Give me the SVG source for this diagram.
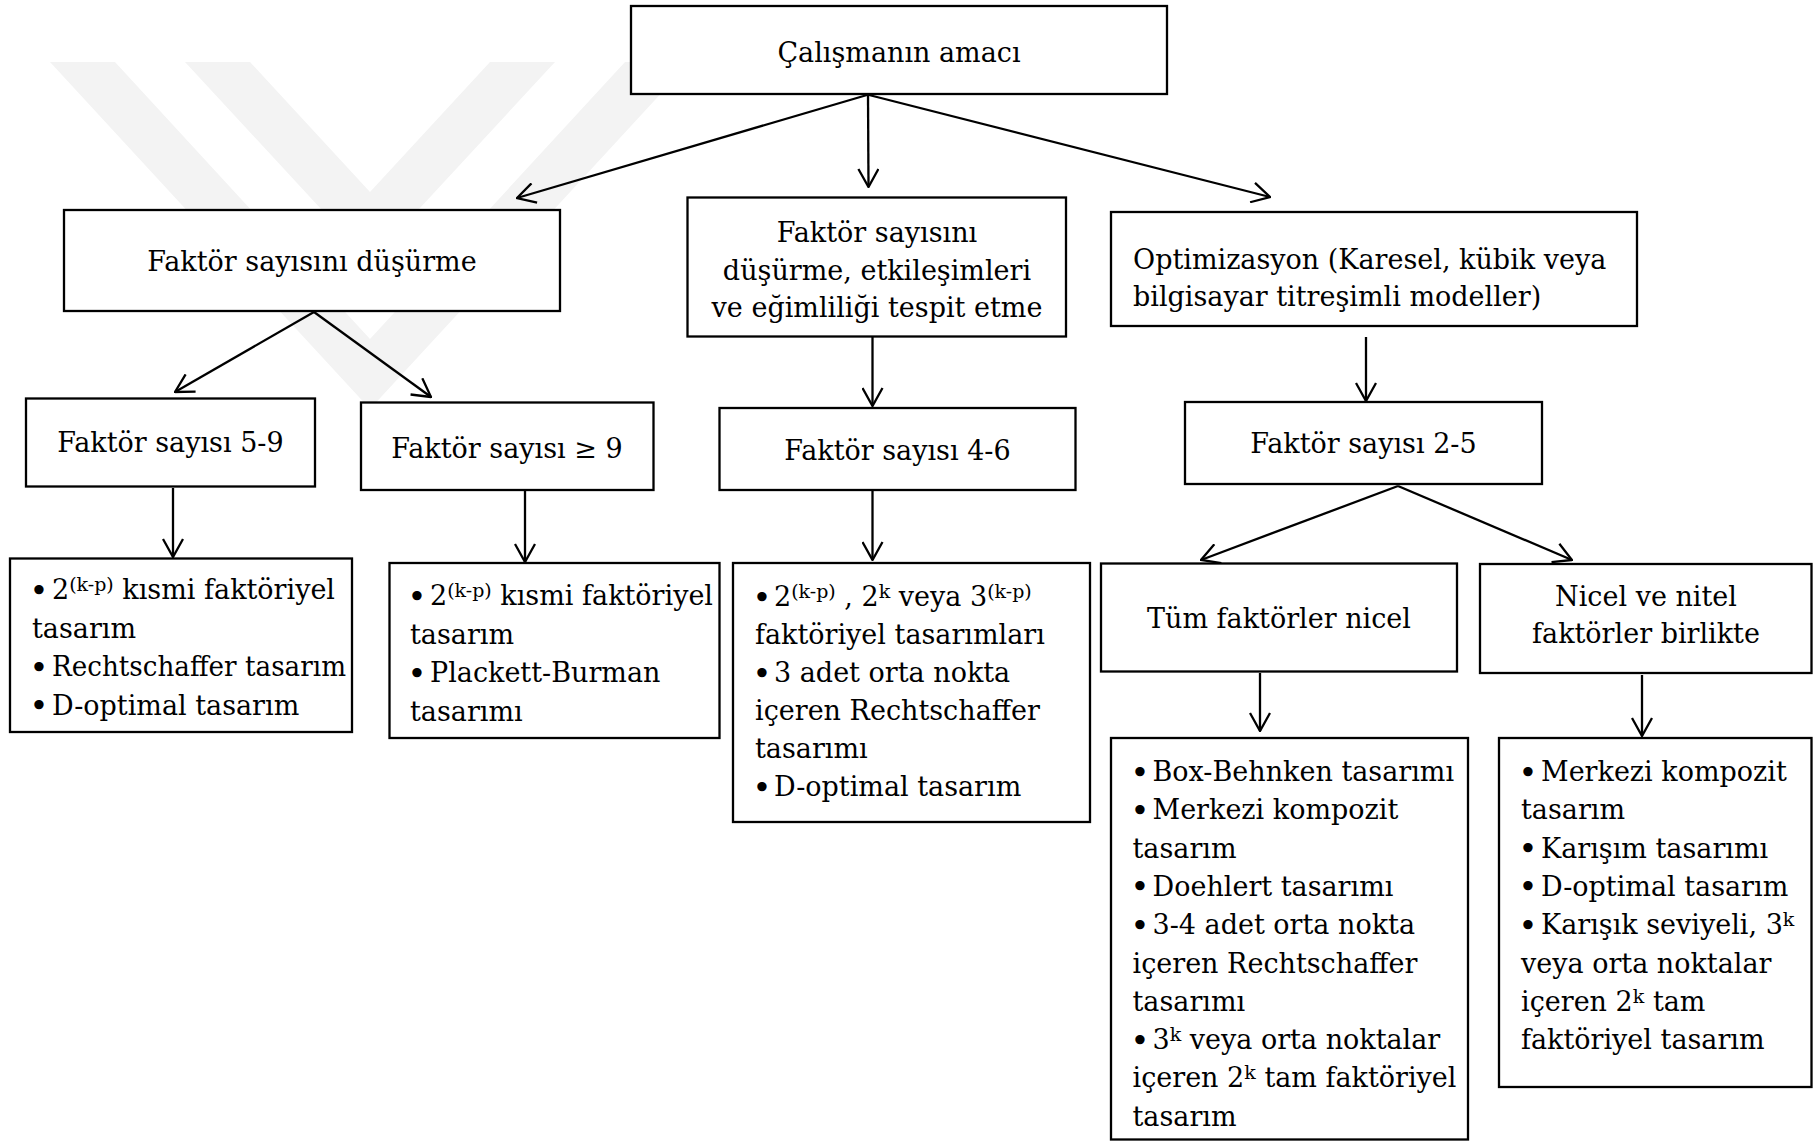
<svg xmlns="http://www.w3.org/2000/svg" width="1814" height="1142" viewBox="0 0 1814 1142">
<style>
.box{fill:#fff;stroke:#000;stroke-width:2.3}
.t{font-family:"DejaVu Serif","Liberation Serif",serif;font-size:27px;fill:#000}
.c{text-anchor:middle}
.b{text-anchor:middle;font-size:32px}
.sup{font-size:19px}
.ln{fill:none;stroke:#000;stroke-width:2.3;marker-end:url(#ah)}
.wm{fill:#f3f3f3}
</style>
<defs>
<marker id="ah" viewBox="0 0 20 22" refX="19" refY="11" markerWidth="20" markerHeight="22" markerUnits="userSpaceOnUse" orient="auto">
<path d="M1,1 L19,11 L1,21" fill="none" stroke="#000" stroke-width="2.3"/>
</marker>
</defs>
<rect width="1814" height="1142" fill="#fff"/>
<g id="watermark">
<polygon class="wm" points="50,62 115,62 370,339 625,62 690,62 370,409"/>
<polygon class="wm" points="185,62 250,62 370,192 490,62 555,62 370,262"/>
</g>
<g id="connectors">
<line class="ln" x1="867" y1="95" x2="517" y2="198"/>
<line class="ln" x1="868" y1="95" x2="868.5" y2="187"/>
<line class="ln" x1="869" y1="95" x2="1270" y2="197"/>
<line class="ln" x1="314" y1="312" x2="175" y2="392"/>
<line class="ln" x1="314" y1="312" x2="431" y2="397"/>
<line class="ln" x1="872.5" y1="337" x2="872.5" y2="406"/>
<line class="ln" x1="1366" y1="337" x2="1366" y2="401"/>
<line class="ln" x1="173" y1="488" x2="173" y2="557"/>
<line class="ln" x1="525" y1="491" x2="525" y2="562"/>
<line class="ln" x1="872.5" y1="491" x2="872.5" y2="560"/>
<line class="ln" x1="1398" y1="486" x2="1201" y2="560"/>
<line class="ln" x1="1398" y1="486" x2="1572" y2="560"/>
<line class="ln" x1="1260" y1="673" x2="1260" y2="731"/>
<line class="ln" x1="1642" y1="675" x2="1642" y2="736"/>
</g>
<g id="n-amac">
<rect class="box" x="631" y="6" width="536" height="88"/>
<text class="t c" x="899" y="62">Çalışmanın amacı</text>
</g>
<g id="n-dusurme">
<rect class="box" x="64" y="210" width="496" height="101"/>
<text class="t c" x="312" y="271">Faktör sayısını düşürme</text>
</g>
<g id="n-etkilesim">
<rect class="box" x="687.5" y="197.5" width="378.5" height="139"/>
<text class="t c" x="877" y="242">Faktör sayısını</text>
<text class="t c" x="877" y="279.5">düşürme, etkileşimleri</text>
<text class="t c" x="877" y="316.5">ve eğimliliği tespit etme</text>
</g>
<g id="n-optimizasyon">
<rect class="box" x="1111" y="212" width="526" height="114"/>
<text class="t" x="1133" y="269">Optimizasyon (Karesel, kübik veya</text>
<text class="t" x="1133" y="306">bilgisayar titreşimli modeller)</text>
</g>
<g id="n-f59">
<rect class="box" x="26" y="398.5" width="289" height="88"/>
<text class="t c" x="170.5" y="452">Faktör sayısı 5-9</text>
</g>
<g id="n-f9">
<rect class="box" x="361" y="402.5" width="292.5" height="87.5"/>
<text class="t c" x="507" y="457.5">Faktör sayısı ≥ 9</text>
</g>
<g id="n-f46">
<rect class="box" x="719.5" y="408" width="356" height="82"/>
<text class="t c" x="897.5" y="459.5">Faktör sayısı 4-6</text>
</g>
<g id="n-f25">
<rect class="box" x="1185" y="402" width="357" height="82"/>
<text class="t c" x="1363.5" y="453">Faktör sayısı 2-5</text>
</g>
<g id="n-d1">
<rect class="box" x="10" y="558.5" width="342" height="173.5"/>
<text class="t b" x="39" y="601.5">•</text>
<text class="t" x="52" y="599">2<tspan class="sup" dy="-8">(k-p)</tspan><tspan dy="8"> kısmi faktöriyel</tspan></text>
<text class="t" x="32" y="637.5">tasarım</text>
<text class="t b" x="39" y="678.5">•</text>
<text class="t" x="52" y="676" textLength="294" lengthAdjust="spacingAndGlyphs">Rechtschaffer tasarım</text>
<text class="t b" x="39" y="717">•</text>
<text class="t" x="52" y="714.5">D-optimal tasarım</text>
</g>
<g id="n-d2">
<rect class="box" x="389.5" y="563" width="330" height="175"/>
<text class="t b" x="417" y="607.5">•</text>
<text class="t" x="430" y="605">2<tspan class="sup" dy="-8">(k-p)</tspan><tspan dy="8"> kısmi faktöriyel</tspan></text>
<text class="t" x="410" y="643.5">tasarım</text>
<text class="t b" x="417" y="684.5">•</text>
<text class="t" x="430" y="682">Plackett-Burman</text>
<text class="t" x="410" y="720.5">tasarımı</text>
</g>
<g id="n-d3">
<rect class="box" x="733" y="563" width="357" height="259"/>
<text class="t b" x="762" y="608.5">•</text>
<text class="t" x="774" y="606">2<tspan class="sup" dy="-8">(k-p)</tspan><tspan dy="8"> , 2</tspan><tspan class="sup" dy="-8">k</tspan><tspan dy="8"> veya 3</tspan><tspan class="sup" dy="-8">(k-p)</tspan></text>
<text class="t" x="755" y="644">faktöriyel tasarımları</text>
<text class="t b" x="762" y="684.5">•</text>
<text class="t" x="774" y="682">3 adet orta nokta</text>
<text class="t" x="755" y="720">içeren Rechtschaffer</text>
<text class="t" x="755" y="758">tasarımı</text>
<text class="t b" x="762" y="798.5">•</text>
<text class="t" x="774" y="796">D-optimal tasarım</text>
</g>
<g id="n-nicel">
<rect class="box" x="1101" y="563.5" width="356" height="108"/>
<text class="t c" x="1279" y="628">Tüm faktörler nicel</text>
</g>
<g id="n-nitel">
<rect class="box" x="1480" y="564" width="331.5" height="109"/>
<text class="t c" x="1646" y="606">Nicel ve nitel</text>
<text class="t c" x="1646" y="643">faktörler birlikte</text>
</g>
<g id="n-f1">
<rect class="box" x="1111" y="738" width="357" height="401.5"/>
<text class="t b" x="1140" y="783.5">•</text>
<text class="t" x="1152.5" y="781">Box-Behnken tasarımı</text>
<text class="t b" x="1140" y="821.8">•</text>
<text class="t" x="1152.5" y="819.3">Merkezi kompozit</text>
<text class="t" x="1132.5" y="857.6">tasarım</text>
<text class="t b" x="1140" y="898.4">•</text>
<text class="t" x="1152.5" y="895.9">Doehlert tasarımı</text>
<text class="t b" x="1140" y="936.7">•</text>
<text class="t" x="1152.5" y="934.2">3-4 adet orta nokta</text>
<text class="t" x="1132.5" y="972.5">içeren Rechtschaffer</text>
<text class="t" x="1132.5" y="1010.8">tasarımı</text>
<text class="t b" x="1140" y="1051.6">•</text>
<text class="t" x="1152.5" y="1049.1">3<tspan class="sup" dy="-8">k</tspan><tspan dy="8"> veya orta noktalar</tspan></text>
<text class="t" x="1132.5" y="1087.4">içeren 2<tspan class="sup" dy="-8">k</tspan><tspan dy="8"> tam faktöriyel</tspan></text>
<text class="t" x="1132.5" y="1125.7">tasarım</text>
</g>
<g id="n-f2">
<rect class="box" x="1499" y="738" width="312.5" height="349"/>
<text class="t b" x="1528" y="783.5">•</text>
<text class="t" x="1541" y="781">Merkezi kompozit</text>
<text class="t" x="1521" y="819.3">tasarım</text>
<text class="t b" x="1528" y="860.1">•</text>
<text class="t" x="1541" y="857.6">Karışım tasarımı</text>
<text class="t b" x="1528" y="898.4">•</text>
<text class="t" x="1541" y="895.9">D-optimal tasarım</text>
<text class="t b" x="1528" y="936.7">•</text>
<text class="t" x="1541" y="934.2">Karışık seviyeli, 3<tspan class="sup" dy="-8">k</tspan></text>
<text class="t" x="1521" y="972.5">veya orta noktalar</text>
<text class="t" x="1521" y="1010.8">içeren 2<tspan class="sup" dy="-8">k</tspan><tspan dy="8"> tam</tspan></text>
<text class="t" x="1521" y="1049.1">faktöriyel tasarım</text>
</g>
</svg>
